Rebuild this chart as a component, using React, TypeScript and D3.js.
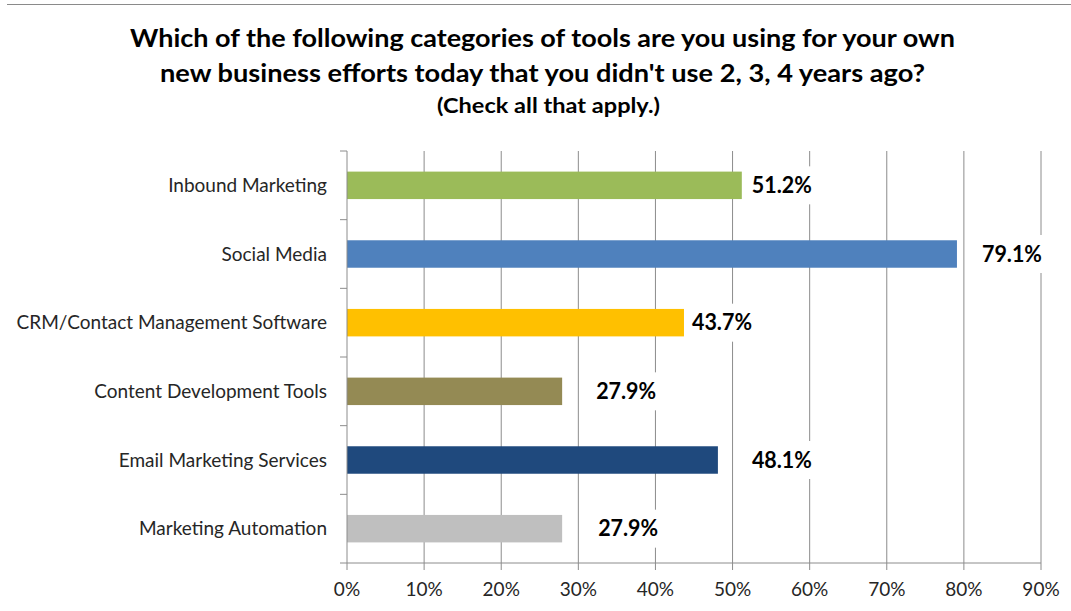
import React from "react";
import * as d3 from "d3";

const categories = [
  "Inbound Marketing",
  "Social Media",
  "CRM/Contact Management Software",
  "Content Development Tools",
  "Email Marketing Services",
  "Marketing Automation",
];
const values = [51.2, 79.1, 43.7, 27.9, 48.1, 27.9];
const barColors = ["#9BBB59", "#4F81BD", "#FFC000", "#948A54", "#1F497D", "#BFBFBF"];
const tickValues = [0, 10, 20, 30, 40, 50, 60, 70, 80, 90];
const titleLines = [
  "Which of the following categories of tools are you using for your own",
  "new business efforts today that you didn't use 2, 3, 4 years ago?",
];
const subtitle = "(Check all that apply.)";

// layout (pixels), not data
const labelGap = [10, 25, 8, 34, 34, 36];
const titleWidths = [825, 765];
const W = 1071;
const H = 611;
const FONT = "Lato, 'Open Sans', sans-serif";

export default function App() {
  const x = d3.scaleLinear().domain([0, 90]).range([347, 1041]);
  const y = d3.scaleBand<string>().domain(categories).range([151, 563]).padding(0);
  const bw = y.bandwidth();
  const barH = bw * 0.4;
  const grid = "#8c8c8c";

  return (
    <svg
      width={W}
      height={H}
      style={{ position: "absolute", left: 0, top: 0, background: "#fff" }}
      fontFamily={FONT}
    >
      <rect x={0} y={0} width={W} height={H} fill="#fff" />
      <line x1={7} x2={W} y1={4.5} y2={4.5} stroke="#8a8a8a" strokeWidth={1.2} />

      {titleLines.map((t, i) => (
        <text
          key={i}
          x={542.5}
          y={47 + i * 35}
          textAnchor="middle"
          fontWeight="bold"
          fontSize={25}
          fill="#000"
          textLength={titleWidths[i]}
          lengthAdjust="spacingAndGlyphs"
        >
          {t}
        </text>
      ))}
      <text
        x={548.5}
        y={113}
        textAnchor="middle"
        fontWeight="bold"
        fontSize={21}
        fill="#000"
        textLength={223}
        lengthAdjust="spacingAndGlyphs"
      >
        {subtitle}
      </text>

      {/* gridlines */}
      {tickValues.slice(1).map((t) => (
        <line key={t} x1={x(t)} x2={x(t)} y1={151} y2={563} stroke={grid} strokeWidth={1} />
      ))}

      {/* bars */}
      {categories.map((c, i) => (
        <rect
          key={c}
          x={x(0)}
          y={(y(c) as number) + (bw - barH) / 2}
          width={x(values[i]) - x(0)}
          height={barH}
          fill={barColors[i]}
        />
      ))}

      {/* y axis */}
      <line x1={x(0)} x2={x(0)} y1={151} y2={563} stroke={grid} strokeWidth={1} />
      {categories.map((c) => (
        <line key={c} x1={x(0) - 7} x2={x(0)} y1={y(c) as number} y2={y(c) as number} stroke={grid} />
      ))}
      <line x1={x(0) - 7} x2={x(0)} y1={563} y2={563} stroke={grid} />
      {categories.map((c) => (
        <text
          key={c}
          x={327}
          y={(y(c) as number) + bw / 2}
          dy="0.35em"
          textAnchor="end"
          fontSize={19}
          fill="#262626"
        >
          {c}
        </text>
      ))}

      {/* x axis */}
      <line x1={x(0)} x2={x(90)} y1={563} y2={563} stroke={grid} strokeWidth={1} />
      {tickValues.map((t) => (
        <g key={t}>
          <line x1={x(t)} x2={x(t)} y1={563} y2={570} stroke={grid} />
          <text x={x(t)} y={589} dy="0.35em" textAnchor="middle" fontSize={19} fill="#262626">
            {t}%
          </text>
        </g>
      ))}

      {/* value labels */}
      {categories.map((c, i) => {
        const lx = x(values[i]) + labelGap[i];
        const cy = (y(c) as number) + bw / 2;
        return (
          <g key={c}>
            <rect x={lx - 3} y={cy - 19} width={67} height={38} fill="#fff" />
            <text
              x={lx}
              y={cy}
              dy="0.35em"
              fontWeight="bold"
              fontSize={22}
              fill="#000"
              textLength={60}
              lengthAdjust="spacingAndGlyphs"
            >
              {values[i].toFixed(1)}%
            </text>
          </g>
        );
      })}
    </svg>
  );
}
